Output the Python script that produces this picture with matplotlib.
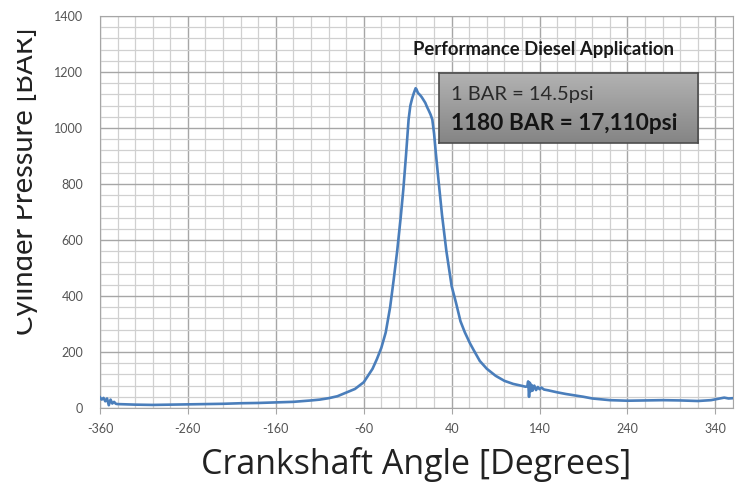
import matplotlib
matplotlib.use("Agg")
import matplotlib.pyplot as plt
import numpy as np
from matplotlib.ticker import MultipleLocator
from matplotlib.transforms import Bbox, TransformedBbox
from matplotlib.colors import LinearSegmentedColormap

plt.rcParams['font.family'] = ['Lato', 'DejaVu Sans']

# crank angle [deg] and cylinder pressure [bar]
angle = [-360, -358, -356, -354, -352, -350, -348, -346, -344, -342, -340,
         -330, -320, -300, -280, -260, -240, -220, -200, -180, -160, -140,
         -120, -110, -100, -90, -80, -70, -60, -50, -45, -40, -35, -30, -26,
         -22, -18, -15, -12, -9, -7, -5, -3, -1, 0, 1, 2, 4, 6, 8, 10, 12,
         14, 16, 18, 20, 22, 25, 29, 34, 40, 45, 50, 55, 61, 65, 72, 80, 90,
         100, 110, 120, 124, 126, 127, 128, 129, 130, 131, 132, 134, 136,
         138, 140, 142, 145, 150, 160, 170, 180, 190, 200, 210, 220, 240,
         260, 280, 300, 320, 335, 345, 350, 355, 360]
pressure = [38, 30, 36, 24, 34, 10, 30, 16, 22, 15, 14,
            13, 12, 11, 12, 13, 14, 15, 17, 18, 20, 22,
            27, 30, 35, 42, 55, 68, 92, 140, 175, 215, 270, 360, 457,
            560, 680, 780, 900, 1030, 1080, 1105, 1125, 1142, 1138, 1130, 1124,
            1118, 1110, 1100, 1090, 1075,
            1062, 1048, 1030, 980, 910, 814, 690, 560, 435, 375, 310, 270, 230,
            207, 168, 140, 115,
            97, 86, 79, 76, 77, 95, 40, 90, 60, 82, 62, 80, 64,
            75, 67, 73, 66, 63, 56, 50, 45, 40, 34, 31, 28, 26,
            27, 28, 27, 25, 28, 34, 37, 34, 35]

x_ticks = [-360, -260, -160, -60, 40, 140, 240, 340]
y_ticks = [0, 200, 400, 600, 800, 1000, 1200, 1400]

W, H = 738, 482
fig = plt.figure(figsize=(W / 100, H / 100), dpi=100)
ax = fig.add_axes([100 / W, 1 - 408 / H, 633 / W, 392 / H])

ax.plot(angle, pressure, color='#4a7ebb', lw=1.9, zorder=3)

ax.set_xlim(-360, 360)
ax.set_ylim(0, 1400)
ax.set_xticks(x_ticks, [str(v) for v in x_ticks])
ax.set_yticks(y_ticks, [str(v) for v in y_ticks])
ax.xaxis.set_minor_locator(MultipleLocator(20))
ax.yaxis.set_minor_locator(MultipleLocator(40))
ax.grid(which='major', color='#a6a6a6', lw=1.0)
ax.grid(which='minor', color='#d0d0d0', lw=0.9)
ax.set_axisbelow(True)
ax.tick_params(axis='x', which='major', length=4, color='#a6a6a6', pad=7,
               labelsize=9, labelcolor='#555555')
ax.tick_params(axis='y', which='major', length=0, pad=12,
               labelsize=9, labelcolor='#555555')
ax.tick_params(which='minor', length=0)
for s in ax.spines.values():
    s.set_color('#a6a6a6')

fig.text(416 / W, 1 - 474 / H, 'Crankshaft Angle [Degrees]', ha='center',
         va='baseline', fontsize=24.5, color='#222222', family='Open Sans')

yl = fig.text(38 / W, 1 - 181 / H, 'Cylinder Pressure [BAR]', rotation=90,
              ha='right', va='center', fontsize=21, color='#222222')
yl.set_clip_box(TransformedBbox(Bbox([[17 / W, 0], [1, 1]]), fig.transFigure))
yl.set_clip_on(True)

fig.text(413 / W, 1 - 49 / H, 'Performance Diesel Application', ha='left',
         va='center', fontsize=13.3, fontweight='bold', color='#1a1a1a')

# grey info box with a vertical gradient
bx = fig.add_axes([439 / W, 1 - 143 / H, 259 / W, 70 / H])
grad = np.linspace(0, 1, 64).reshape(-1, 1)
bx.imshow(grad, cmap=LinearSegmentedColormap.from_list('g', ['#b2b2b2', '#858585']),
          aspect='auto', extent=[0, 1, 0, 1], origin='upper')
bx.set_xticks([])
bx.set_yticks([])
for s in bx.spines.values():
    s.set_color('#4d4d4d')
    s.set_linewidth(1.2)
bx.text(0.045, 0.614, '1 BAR = 14.5psi', transform=bx.transAxes, ha='left',
        va='baseline', fontsize=14.5, color='#2a2a2a')
bx.text(0.045, 0.186, '1180 BAR = 17,110psi', transform=bx.transAxes, ha='left',
        va='baseline', fontsize=16.3, fontweight='bold', color='#141414')

fig.savefig('out.png', dpi=100)
